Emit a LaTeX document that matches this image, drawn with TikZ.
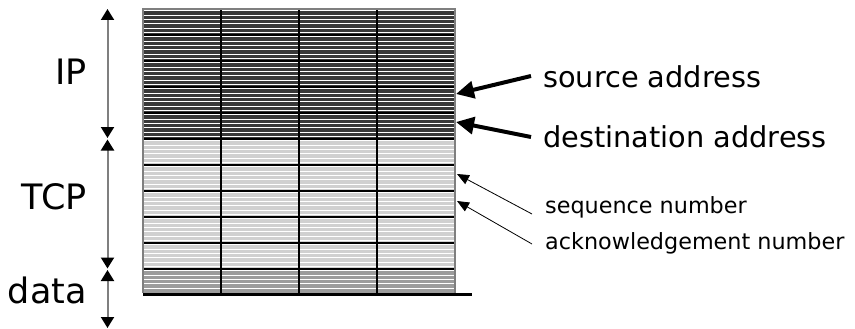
\documentclass[tikz,border=0pt]{standalone}
\usepackage{fontspec}
\setmainfont{DejaVu Sans}
\usetikzlibrary{arrows.meta}
\definecolor{ipgray}{HTML}{383838}
\definecolor{tcpgray}{HTML}{D0D0D0}
\definecolor{datagray}{HTML}{9C9C9C}
\definecolor{axisgray}{HTML}{7F7F7F}
\tikzset{
  layerlabel/.style={anchor=east,inner sep=0pt,font=\fontsize{35}{40}\selectfont},
  biglabel/.style={anchor=west,inner sep=0pt,font=\fontsize{28.8}{32}\selectfont},
  smalllabel/.style={anchor=west,inner sep=0pt,font=\fontsize{22.3}{26}\selectfont},
  span/.style={draw=axisgray,line width=2pt,{Triangle[width=13pt,length=11pt,color=black]}-{Triangle[width=13pt,length=11pt,color=black]}},
  stripe/.style={draw=white,line width=1pt},
  grid/.style={draw=black,line width=1.2pt},
  thickarrow/.style={draw=black,line width=4pt,-{Triangle[width=17pt,length=18pt]}},
  thinarrow/.style={draw=black,line width=0.8pt,-{Triangle[width=10pt,length=12pt]}},
}
\begin{document}
\begin{tikzpicture}[x=1pt,y=-1pt]
\useasboundingbox (0,0) rectangle (855,329);
% fills
\fill[ipgray] (143,9) rectangle (455,139);
\fill[tcpgray] (143,139) rectangle (455,269);
\fill[datagray] (143,269) rectangle (455,293);
% stripes
\foreach \r in {0,...,9}{
  \foreach \k in {0,...,5}{
    \draw[stripe] (143,{9+26*\r+1.9+4.35*\k}) -- (455,{9+26*\r+1.9+4.35*\k});
  }
}
\foreach \k in {0,...,4}{
  \draw[stripe] (143,{269+1.9+4.35*\k}) -- (455,{269+1.9+4.35*\k});
}
% row lines
\foreach \y in {35,61,87,113,139,165,191,217,243,269}{
  \draw[grid] (143,\y) -- (455,\y);
}
% column lines
\foreach \x in {221,299,377}{
  \draw[grid] (\x,9) -- (\x,293);
}
% outer border
\draw[axisgray,line width=1.2pt] (143,293) -- (143,9) -- (455,9) -- (455,293);
\draw[black,line width=3.5pt] (143,294.5) -- (472,294.5);
% spans
\coordinate (ipT) at (107.5,9);
\coordinate (ipB) at (107.5,138);
\coordinate (tcpT) at (107.5,139.5);
\coordinate (tcpB) at (107.5,268.5);
\coordinate (dT) at (107.5,270);
\coordinate (dB) at (107.5,328);
\draw[span] (ipT) -- (ipB);
\draw[span] (tcpT) -- (tcpB);
\draw[span] (dT) -- (dB);
\node[layerlabel] (ip) at (87,72) {IP};
\node[layerlabel] (tcp) at (87,197) {TCP};
\node[layerlabel] (data) at (87,290) {data};
% right labels
\node[biglabel] (src) at (543,77) {source address};
\node[biglabel] (dst) at (543,137) {destination address};
\node[smalllabel] (seq) at (545,207) {sequence number};
\node[smalllabel] (ack) at (545,243) {acknowledgement number};
\coordinate (srcT) at (456,94);
\coordinate (dstT) at (456,122);
\coordinate (seqT) at (457,174);
\coordinate (ackT) at (457,201);
\draw[thickarrow] ([xshift=-12pt,yshift=1pt]src.west) -- (srcT);
\draw[thickarrow] ([xshift=-12pt,yshift=0pt]dst.west) -- (dstT);
\draw[thinarrow] ([xshift=-13pt,yshift=-7pt]seq.west) -- (seqT);
\draw[thinarrow] ([xshift=-13pt,yshift=-1pt]ack.west) -- (ackT);
\end{tikzpicture}
\end{document}
